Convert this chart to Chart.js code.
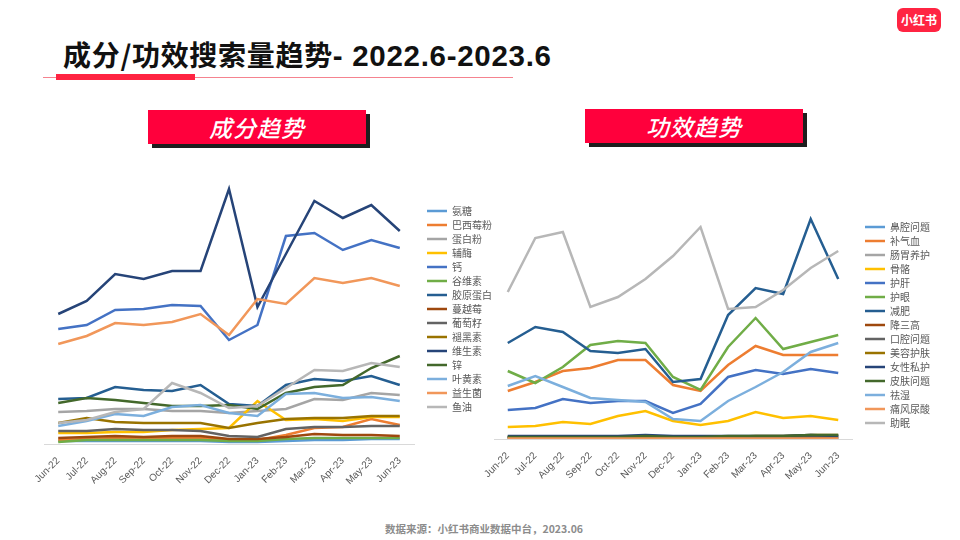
<!DOCTYPE html>
<html>
<head>
<meta charset="utf-8">
<script src="https://cdn.jsdelivr.net/npm/chart.js@4.4.1/dist/chart.umd.min.js"></script>
<style>
html,body{margin:0;padding:0;background:#fff;}
body{width:960px;height:540px;position:relative;overflow:hidden;font-family:"Noto Sans CJK SC",sans-serif;}
#title{position:absolute;left:63px;top:38px;font-size:28px;font-weight:700;color:#111;line-height:32px;white-space:nowrap;letter-spacing:0.7px;}
#title .lat{font-family:"Liberation Sans","Noto Sans CJK SC",sans-serif;font-size:29.5px;}
#thin{position:absolute;left:43px;top:77px;width:470px;height:1px;background:#F5838F;}
#thick{position:absolute;left:56px;top:74px;width:139px;height:6px;background:#FF2442;}
.banner{position:absolute;width:218px;height:34px;background:#FF003C;box-shadow:4px 4px 0 #1e1e1e;color:#fff;font-style:italic;font-size:23px;line-height:34px;text-align:center;font-weight:500;letter-spacing:1px;}
#logo{position:absolute;left:897px;top:8px;width:44px;height:24px;border-radius:6px;background:#FF2442;color:#fff;font-weight:700;font-size:12px;line-height:24px;text-align:center;}
#foot{position:absolute;left:4px;width:960px;top:521px;text-align:center;font-size:10.5px;line-height:16px;color:#8C8C8C;font-weight:600;}
canvas{position:absolute;left:0;top:0;}
</style>
</head>
<body>
<div id="logo">小红书</div>
<div id="title">成分/功效搜索量趋势<span class="lat">- 2022.6-2023.6</span></div>
<div id="thin"></div>
<div id="thick"></div>
<div class="banner" style="left:148px;top:110px;">成分趋势</div>
<div class="banner" style="left:585px;top:109px;">功效趋势</div>
<div id="foot">数据来源：小红书商业数据中台，2023.06</div>
<canvas id="c1" width="960" height="540"></canvas>
<canvas id="c2" width="960" height="540"></canvas>
<script>
// ---- categories ----
const months = ['Jun-22','Jul-22','Aug-22','Sep-22','Oct-22','Nov-22','Dec-22','Jan-23','Feb-23','Mar-23','Apr-23','May-23','Jun-23'];

// ---- 成分 (ingredients) series, relative search index ----
const ingredientNames = ['氨糖','巴西莓粉','蛋白粉','辅酶','钙','谷维素','胶原蛋白','蔓越莓','葡萄籽','褪黑素','维生素','锌','叶黄素','益生菌','鱼油'];
const anTang    = [3,3,3,3,3,3,2,2,3,4,4,5,5];
const baXiMei   = [4,5,6,6,6,6,4,4,9,16,17,25,19];
const danBaiFen = [32,33,35,35,33,33,31,33,35,45,44,51,49];
const fuMei     = [11,11,12,12,14,15,16,43,24,25,23,27,27];
const gai       = [115,119,134,135,139,138,104,119,208,211,194,204,196];
const guWeiSu   = [2,4,4,4,4,4,3,3,5,6,6,6,6];
const jiaoYuan  = [45,46,57,54,53,59,40,38,59,65,63,68,59];
const manYueMei = [6,7,8,7,8,8,5,5,7,10,9,9,8];
const puTaoZi   = [13,13,15,14,14,13,8,7,15,17,17,18,18];
const tuiHeiSu  = [21,26,22,21,21,21,16,21,25,26,26,28,28];
const weiShengSu= [130,143,170,165,173,173,255,137,190,243,226,239,213];
const xin       = [41,46,44,41,38,38,39,35,51,57,59,76,88];
const yeHuangSu = [18,23,30,28,37,39,31,28,50,51,46,47,43];
const yiShengJun= [100,108,121,119,122,130,109,145,140,166,161,166,158];
const yuYou     = [21,24,32,35,61,51,36,38,56,74,73,81,77];

// ---- 功效 (efficacy) series, relative search index ----
const effectNames = ['鼻腔问题','补气血','肠胃养护','骨骼','护肝','护眼','减肥','降三高','口腔问题','美容护肤','女性私护','皮肤问题','祛湿','痛风尿酸','助眠'];
const biQiang   = [1,1,1,1,1,1,1,1,1,1,1,1,1];
const buQiXue   = [48,57,68,71,79,79,54,48,74,93,84,84,84];
const changWei  = [2,2,2,2,2,2,2,2,2,2,2,2,2];
const guGe      = [12,13,17,15,23,28,18,14,18,27,21,23,19];
const huGan     = [29,31,40,36,38,38,26,35,62,69,65,70,66];
const huYan     = [68,56,72,94,98,96,62,49,92,121,90,97,104];
const jianFei   = [96,112,107,88,86,90,57,60,124,151,145,220,160];
const jiangSanGao=[1,1,1,1,1,1,1,1,1,1,1,1,1];
const kouQiang  = [2,2,2,2,2,2,2,2,2,2,2,3,3];
const meiRong   = [2,2,2,2,2,2,2,2,2,3,3,4,4];
const nvXing    = [3,3,3,3,3,4,3,3,3,3,3,4,3];
const piFu      = [2,2,2,2,2,3,2,2,3,3,3,4,4];
const quShi     = [53,63,52,41,39,37,20,18,38,52,67,87,96];
const tongFeng  = [0.5,0.5,0.5,0.5,0.5,0.5,0.5,0.5,0.5,0.5,0.5,0.5,0.5];
const zhuMian   = [147,201,207,132,142,160,183,212,130,132,149,171,188];

const palette = ['#5B9BD5','#ED7D31','#A5A5A5','#FFC000','#4472C4','#70AD47','#255E91','#9E480E','#636363','#997300','#264478','#43682B','#7CAFDD','#F1975A','#B7B7B7'];

const ingredientSeries = [anTang,baXiMei,danBaiFen,fuMei,gai,guWeiSu,jiaoYuan,manYueMei,puTaoZi,tuiHeiSu,weiShengSu,xin,yeHuangSu,yiShengJun,yuYou];
const effectSeries = [biQiang,buQiXue,changWei,guGe,huGan,huYan,jianFei,jiangSanGao,kouQiang,meiRong,nvXing,piFu,quShi,tongFeng,zhuMian];

Chart.defaults.font.family = '"Noto Sans CJK SC", sans-serif';

function legendPlacer(lx, ly, lw){
  return {
    id: 'legendPlacer',
    beforeLayout(chart){
      const lg = chart.legend;
      if (lg && !lg._fixedW){
        const f = lg.fit;
        lg.fit = function(){ f.call(this); this.width = lw; };
        lg._fixedW = true;
      }
    },
    afterLayout(chart){
      const lg = chart.legend;
      if (!lg) return;
      const h = 260;
      lg.left = lx - 4; lg.right = lg.left + lw; lg.width = lw;
      lg.top = ly - 9; lg.bottom = lg.top + h; lg.height = h;
    }
  };
}

function makeChart(id, names, series, cfg){
  const datasets = names.map((n, i) => ({
    label: n,
    data: series[i],
    borderColor: palette[i],
    backgroundColor: palette[i],
    borderWidth: 2.5,
    pointRadius: 0,
    pointHoverRadius: 0,
    tension: 0,
    fill: false,
    order: -i
  }));
  return new Chart(document.getElementById(id), {
    type: 'line',
    data: { labels: months, datasets },
    options: {
      responsive: false,
      animation: false,
      devicePixelRatio: 1,
      events: [],
      layout: { padding: { left: cfg.padL, top: cfg.padT, right: cfg.padR, bottom: 0 } },
      plugins: {
        tooltip: { enabled: false },
        legend: {
          position: 'right',
          align: 'start',
          labels: {
            usePointStyle: true,
            pointStyle: 'line',
            pointStyleWidth: 20,
            padding: 4,
            color: '#595959',
            font: { size: 10, family: '"Noto Sans CJK SC", sans-serif' },
            sort: (a, b) => a.datasetIndex - b.datasetIndex
          }
        }
      },
      scales: {
        x: {
          offset: true,
          grid: { display: false },
          border: { display: true, color: '#D9D9D9', width: 1 },
          ticks: {
            autoSkip: false, minRotation: 45, maxRotation: 45,
            color: '#595959',
            font: { size: 10, family: '"Liberation Sans", sans-serif' }
          },
          afterFit(s){ s.height = cfg.xH; }
        },
        y: { display: false, min: 0, max: cfg.yMax }
      }
    },
    plugins: [legendPlacer(cfg.legX, cfg.legY, 80)]
  });
}

makeChart('c1', ingredientNames, ingredientSeries, { padL: 44, padT: 184, padR: 960 - 414 - 80, yMax: 260, xH: 540 - 444, legX: 427, legY: 211 });
makeChart('c2', effectNames, effectSeries, { padL: 494, padT: 214, padR: 960 - 852 - 80, yMax: 225, xH: 540 - 439, legX: 865, legY: 227 });
</script>
</body>
</html>
